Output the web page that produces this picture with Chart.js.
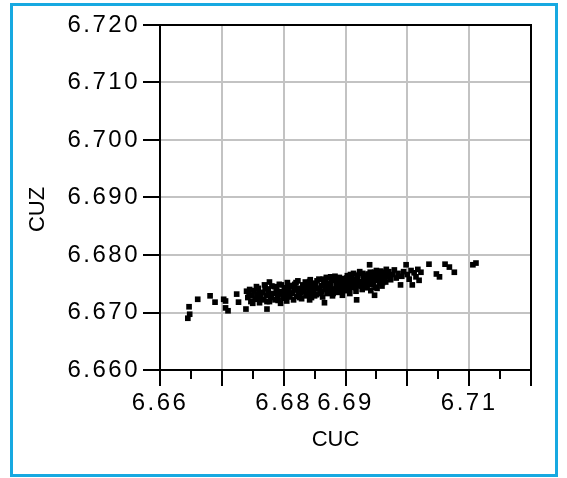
<!DOCTYPE html>
<html>
<head>
<meta charset="utf-8">
<script src="https://cdn.jsdelivr.net/npm/chart.js@4"></script>
<style>
  html, body { margin: 0; padding: 0; background: #ffffff; }
  #wrap { position: relative; width: 567px; height: 478px; }
  #frame { position: absolute; left: 10px; top: 3px; width: 548px; height: 474px; box-sizing: border-box; border: 3px solid #17a9e1; }
  #c { position: absolute; left: 0; top: 0; }
</style>
</head>
<body>
<div id="wrap">
  <div id="frame"></div>
  <canvas id="c" width="567" height="478"></canvas>
</div>
<script>
// ---- data ----
const cucValues = [
  6.6645, 6.6648, 6.6647, 6.6661, 6.6681, 6.6689, 6.6703, 6.6706, 6.6706, 6.6710,
  6.6724, 6.6727, 6.6739, 6.6740, 6.6773, 6.6777, 6.6842, 6.6866, 6.6876, 6.6918, 6.6947,
  6.6742, 6.6744, 6.6747, 6.6749, 6.6752, 6.6754, 6.6757, 6.6759, 6.6761, 6.6763,
  6.6766, 6.6768, 6.6770, 6.6772, 6.6775, 6.6777, 6.6779, 6.6781, 6.6784, 6.6786,
  6.6788, 6.6790, 6.6793, 6.6795, 6.6797, 6.6799,
  6.6801, 6.6803, 6.6805, 6.6806, 6.6808, 6.6810, 6.6812, 6.6814, 6.6816, 6.6818,
  6.6819, 6.6821, 6.6823, 6.6825, 6.6827, 6.6829, 6.6831, 6.6833, 6.6835, 6.6837,
  6.6839, 6.6841, 6.6843, 6.6845, 6.6847, 6.6849,
  6.6851, 6.6853, 6.6855, 6.6857, 6.6859, 6.6861, 6.6863, 6.6865, 6.6867, 6.6869,
  6.6871, 6.6873, 6.6875, 6.6877, 6.6879, 6.6881, 6.6883, 6.6885, 6.6887, 6.6889,
  6.6891, 6.6893, 6.6895, 6.6897,
  6.6899, 6.6901, 6.6903, 6.6905, 6.6907, 6.6909, 6.6911, 6.6913, 6.6915, 6.6917,
  6.6919, 6.6921, 6.6923, 6.6925, 6.6927, 6.6929, 6.6931, 6.6933, 6.6935, 6.6937,
  6.6939, 6.6941, 6.6943, 6.6945, 6.6947, 6.6949, 6.6951, 6.6953, 6.6955, 6.6957,
  6.6959, 6.6961, 6.6963, 6.6965,
  6.6760, 6.6774, 6.6790, 6.6804, 6.6815, 6.6828, 6.6840, 6.6852, 6.6866, 6.6878,
  6.6892, 6.6904, 6.6918, 6.6930, 6.6944, 6.6956, 6.6824, 6.6846, 6.6868, 6.6888,
  6.6910, 6.6934, 6.6952, 6.6798, 6.6862,
  6.6745, 6.6750, 6.6756, 6.6762, 6.6769, 6.6773, 6.6780, 6.6785, 6.6791, 6.6796,
  6.6802, 6.6807, 6.6811, 6.6817, 6.6820, 6.6826, 6.6832, 6.6836, 6.6842, 6.6844,
  6.6848, 6.6850, 6.6854, 6.6858, 6.6860, 6.6864, 6.6870, 6.6872, 6.6876, 6.6880,
  6.6882, 6.6886, 6.6890, 6.6894, 6.6896, 6.6900, 6.6902, 6.6906, 6.6908, 6.6912,
  6.6914, 6.6916, 6.6920, 6.6922, 6.6926, 6.6928, 6.6932, 6.6936, 6.6938, 6.6940,
  6.6942, 6.6946, 6.6948, 6.6950, 6.6954, 6.6958, 6.6960, 6.6962, 6.6964, 6.6966,
  6.6968, 6.6970, 6.6973, 6.6976, 6.6979, 6.6982, 6.6985, 6.6989, 6.6991, 6.6994,
  6.6998, 6.7000, 6.7003, 6.7006, 6.7008, 6.7011, 6.7014, 6.7017, 6.7019, 6.7022,
  6.7035, 6.7047, 6.7052, 6.7061, 6.7068, 6.7076, 6.7106, 6.7111, 6.6939
];
const cuzValues = [
  6.6690, 6.6697, 6.6710, 6.6723, 6.6729, 6.6718, 6.6723, 6.6720, 6.6708, 6.6703,
  6.6732, 6.6718, 6.6706, 6.6737, 6.6706, 6.6753, 6.6722, 6.6717, 6.6762, 6.6722, 6.6730,
  6.6726, 6.6733, 6.6719, 6.6729, 6.6738, 6.6723, 6.6731, 6.6742, 6.6717, 6.6727,
  6.6735, 6.6722, 6.6744, 6.6730, 6.6738, 6.6719, 6.6726, 6.6746, 6.6733, 6.6722,
  6.6740, 6.6729, 6.6749, 6.6716, 6.6736, 6.6725,
  6.6743, 6.6731, 6.6720, 6.6752, 6.6737, 6.6727, 6.6745, 6.6733, 6.6722, 6.6749,
  6.6739, 6.6728, 6.6755, 6.6742, 6.6734, 6.6724, 6.6748, 6.6737, 6.6753, 6.6729,
  6.6743, 6.6735, 6.6757, 6.6726, 6.6746, 6.6738,
  6.6751, 6.6731, 6.6742, 6.6758, 6.6736, 6.6747, 6.6727, 6.6753, 6.6740, 6.6761,
  6.6733, 6.6749, 6.6744, 6.6756, 6.6729, 6.6739, 6.6763, 6.6747, 6.6735, 6.6752,
  6.6742, 6.6759, 6.6730, 6.6746,
  6.6755, 6.6738, 6.6764, 6.6749, 6.6733, 6.6757, 6.6743, 6.6768, 6.6751, 6.6737,
  6.6760, 6.6746, 6.6771, 6.6754, 6.6740, 6.6763, 6.6749, 6.6758, 6.6744, 6.6767,
  6.6753, 6.6738, 6.6761, 6.6748, 6.6770, 6.6756, 6.6742, 6.6764, 6.6751, 6.6772,
  6.6746, 6.6759, 6.6767, 6.6753,
  6.6733, 6.6741, 6.6737, 6.6740, 6.6747, 6.6740, 6.6750, 6.6744, 6.6748, 6.6741,
  6.6750, 6.6756, 6.6752, 6.6756, 6.6754, 6.6762, 6.6731, 6.6733, 6.6755, 6.6758,
  6.6762, 6.6765, 6.6768, 6.6732, 6.6737,
  6.6740, 6.6716, 6.6745, 6.6724, 6.6748, 6.6719, 6.6730, 6.6745, 6.6721, 6.6748,
  6.6725, 6.6746, 6.6734, 6.6741, 6.6752, 6.6726, 6.6745, 6.6732, 6.6754, 6.6740,
  6.6750, 6.6729, 6.6755, 6.6741, 6.6733, 6.6758, 6.6745, 6.6737, 6.6750, 6.6733,
  6.6756, 6.6742, 6.6761, 6.6738, 6.6753, 6.6745, 6.6760, 6.6741, 6.6766, 6.6750,
  6.6758, 6.6744, 6.6765, 6.6753, 6.6747, 6.6768, 6.6743, 6.6760, 6.6749, 6.6770,
  6.6756, 6.6763, 6.6744, 6.6773, 6.6758, 6.6765, 6.6752, 6.6770, 6.6760, 6.6775,
  6.6763, 6.6771, 6.6757, 6.6766, 6.6774, 6.6760, 6.6768, 6.6748, 6.6763, 6.6771,
  6.6783, 6.6766, 6.6758, 6.6773, 6.6748, 6.6769, 6.6762, 6.6775, 6.6756, 6.6770,
  6.6784, 6.6767, 6.6762, 6.6784, 6.6779, 6.6770, 6.6783, 6.6786, 6.6783
];
const xTickValues = [6.66, 6.67, 6.68, 6.69, 6.70, 6.71, 6.72];
const xTickLabels = ['6.66', '', '6.68', '6.69', '', '6.71', ''];
const xMinorTickValues = [6.665, 6.675, 6.685, 6.695, 6.705, 6.715];
const yTickValues = [6.66, 6.67, 6.68, 6.69, 6.70, 6.71, 6.72];
const yTickLabels = ['6.660', '6.670', '6.680', '6.690', '6.700', '6.710', '6.720'];
const xTitle = 'CUC';
const yTitle = 'CUZ';

const points = cucValues.map((x, i) => ({ x: x, y: cuzValues[i] }));

const TICK_FONT = { family: '"Liberation Sans", Arial, sans-serif', size: 24 };
const TITLE_FONT = { family: '"Liberation Sans", Arial, sans-serif', size: 22 };
const LABEL_SPACING = '2.5px';
const TITLE_SHIFT = { x: [-10, 0], y: [0, 12] };

const gridColor = (ctx) => {
  const v = ctx.tick ? ctx.tick.value : null;
  if (v === null) return 'rgba(0,0,0,0)';
  const s = ctx.scale;
  if (Math.abs(v - s.min) < 1e-9 || Math.abs(v - s.max) < 1e-9) return 'rgba(0,0,0,0)';
  return '#c3c3c3';
};

const framePlugin = {
  id: 'framePlugin',
  beforeDraw(chart) {
    Object.values(chart.scales).forEach((scale) => {
      if (scale._lsPatched) return;
      const origLabels = scale.drawLabels;
      scale.drawLabels = function (...args) {
        const c = this.ctx;
        const prev = c.letterSpacing;
        c.letterSpacing = LABEL_SPACING;
        origLabels.apply(this, args);
        c.letterSpacing = prev || '0px';
      };
      const origTitle = scale.drawTitle;
      const shift = TITLE_SHIFT[scale.id] || [0, 0];
      scale.drawTitle = function (...args) {
        const c = this.ctx;
        c.save();
        c.translate(shift[0], shift[1]);
        origTitle.apply(this, args);
        c.restore();
      };
      scale._lsPatched = true;
    });
  },
  afterDraw(chart) {
    const { ctx, chartArea } = chart;
    const xs = chart.scales.x;
    ctx.save();
    ctx.strokeStyle = '#000000';
    ctx.lineWidth = 2;
    ctx.beginPath();
    ctx.moveTo(chartArea.left - 1, chartArea.top);
    ctx.lineTo(chartArea.right + 1, chartArea.top);
    ctx.moveTo(chartArea.right, chartArea.top);
    ctx.lineTo(chartArea.right, chartArea.bottom);
    ctx.stroke();
    ctx.beginPath();
    xMinorTickValues.forEach((v) => {
      const px = Math.round(xs.getPixelForValue(v));
      if (px < chartArea.left || px > chartArea.right) return;
      ctx.moveTo(px, chartArea.bottom);
      ctx.lineTo(px, chartArea.bottom + 9);
    });
    ctx.stroke();
    ctx.restore();
  }
};

new Chart(document.getElementById('c'), {
  type: 'scatter',
  data: {
    datasets: [{
      label: 'CUZ vs CUC',
      data: points,
      pointStyle: 'rect',
      pointRadius: 4,
      pointBorderWidth: 0,
      pointBackgroundColor: '#000000',
      pointBorderColor: '#000000',
      pointHoverRadius: 4
    }]
  },
  options: {
    responsive: false,
    animation: false,
    devicePixelRatio: 1,
    layout: { padding: { left: 0, top: 25, right: 36, bottom: 0 } },
    plugins: {
      legend: { display: false },
      tooltip: { enabled: false },
      title: { display: false }
    },
    scales: {
      x: {
        type: 'linear',
        position: 'bottom',
        min: 6.66,
        max: 6.72,
        afterBuildTicks: (s) => { s.ticks = xTickValues.map((v) => ({ value: v })); },
        afterFit: (s) => { s.height = 108; },
        ticks: {
          autoSkip: false,
          maxRotation: 0,
          minRotation: 0,
          padding: 3,
          color: '#000000',
          font: TICK_FONT,
          callback: (v, i) => xTickLabels[i]
        },
        grid: {
          color: gridColor,
          lineWidth: 2,
          drawTicks: true,
          tickLength: 16,
          tickColor: '#000000',
          tickWidth: 2
        },
        border: { display: true, color: '#000000', width: 2 },
        title: {
          display: true,
          text: xTitle,
          color: '#000000',
          font: TITLE_FONT,
          padding: { top: 0, bottom: 25 }
        }
      },
      y: {
        type: 'linear',
        position: 'left',
        min: 6.66,
        max: 6.72,
        afterBuildTicks: (s) => { s.ticks = yTickValues.map((v) => ({ value: v })); },
        afterFit: (s) => { s.width = 160; },
        ticks: {
          padding: 3,
          color: '#000000',
          font: TICK_FONT,
          callback: (v, i) => yTickLabels[i]
        },
        grid: {
          color: gridColor,
          lineWidth: 2,
          drawTicks: true,
          tickLength: 17,
          tickColor: '#000000',
          tickWidth: 2
        },
        border: { display: true, color: '#000000', width: 2 },
        title: {
          display: true,
          text: yTitle,
          color: '#000000',
          font: TITLE_FONT,
          padding: { top: 25, bottom: 0 }
        }
      }
    }
  },
  plugins: [framePlugin]
});
</script>
</body>
</html>
